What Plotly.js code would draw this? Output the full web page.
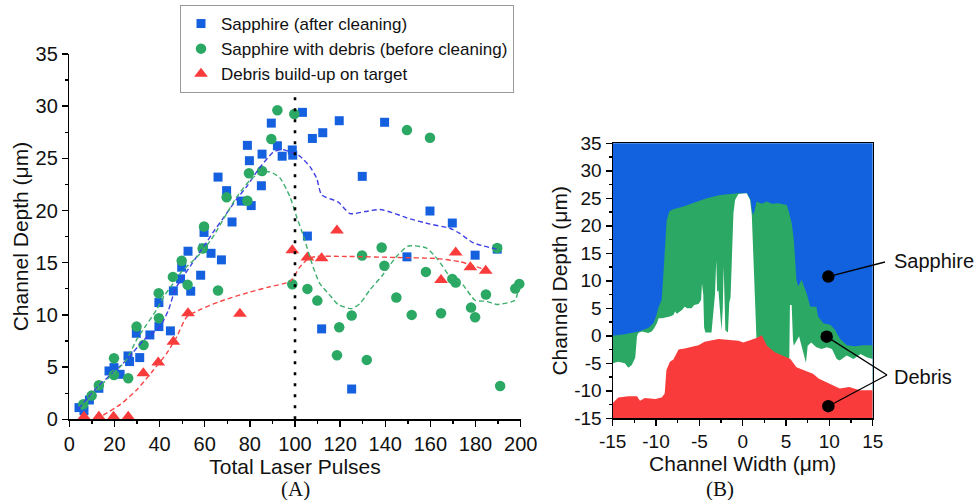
<!DOCTYPE html>
<html><head><meta charset="utf-8">
<script src="https://cdn.plot.ly/plotly-3.0.1.min.js"></script>
<style>html,body{margin:0;padding:0;background:#fff}</style>
</head><body><div id="chart" style="width:974px;height:500px"></div>
<script>
// ---------- Panel A data ----------
const cleanX = [4.3,6.5,8.9,13.1,17.6,19.8,22.5,26.0,26.7,29.7,31.2,35.7,39.7,39.7,44.8,46.1,49.3,49.8,52.6,53.8,58.2,59.4,59.7,62.8,65.9,67.4,69.7,72.1,76.2,78.9,79.8,80.6,85.1,85.4,89.5,92.2,94.3,98.8,99.0,103.3,105.5,107.7,109.8,111.8,112.3,119.6,125.1,129.8,139.7,149.6,159.8,169.7,179.8,189.6];
const cleanY = [1.12,0.83,1.85,2.97,4.63,4.95,4.31,6.07,5.53,8.24,5.91,8.08,8.88,11.18,8.47,12.3,13.45,14.57,16.1,12.27,13.8,16.4,17.9,15.9,23.2,15.27,21.9,18.9,20.9,26.24,24.77,20.47,22.37,25.4,28.37,26.2,25.2,25.8,25.3,29.4,17.55,26.9,31.76,8.66,27.45,28.6,2.9,23.27,28.45,15.56,19.95,18.8,15.72,16.3];

const debrisX = [6.2,9.9,13.1,19.8,19.8,26.1,29.8,32.9,39.7,39.6,45.9,49.8,52.4,59.1,59.7,65.9,69.7,78.9,79.6,85.4,89.5,92.2,98.8,99.7,105.5,109.9,118.6,119.6,125.1,129.7,131.8,138.4,139.6,144.9,149.6,151.7,158,159.8,164.7,169.7,171.2,178,179.8,184.6,189.6,190.9,197.6,199.4];
const debrisY = [1.44,2.27,3.26,5.85,4.25,3.93,8.88,7.12,9.68,12.08,13.64,15.18,12.88,16.36,18.47,12.33,21.26,20.94,23.56,23.78,26.85,29.6,12.94,29.25,12.49,11.37,6.13,8.82,9.94,15.69,5.69,16.45,14.7,11.66,27.7,10.0,14.12,26.97,10.16,13.45,13.1,10.7,9.78,11.95,16.42,3.19,12.52,12.97];

const buildX = [6.5,13.1,19.6,26.1,32.8,39.4,46.1,52.6,75.6,98.8,105.5,111.8,118.6,164.7,171.2,177.7,184.5];
const buildY = [0.25,0.25,0.25,0.25,4.4,5.43,7.44,10.16,10.1,16.2,15.5,15.43,18.08,13.35,15.97,14.57,14.22];

// smoothed trend lines (dashed)
const cleanFitX = [4,8,13,19,25.4,33,40,44,47,50,54,60,64,68,74.2,78.6,84,90.4,94.1,99.3,102.2,106.6,109.6,111.8,119.2,124.4,131,137.7,143,149.5,159.8,168.6,173,179,189.3];
const cleanFitY = [1.0,2.0,3.2,4.4,5.7,7.6,8.8,10.5,12.5,13.5,14.8,16.7,18.0,19.2,21.1,22.3,24.0,25.6,25.85,25.5,25.2,24.2,23.1,21.5,20.8,19.7,19.9,20.1,19.8,19.3,18.7,18.3,17.8,16.9,16.3];
const debrisFitX = [5.5,10.6,19.5,25,29.8,34,38.7,42,46,50,54.9,59.4,64,69.7,74.2,80,84.5,89,93.4,97.8,100.7,103.7,108,111,115,119.1,125.1,128.8,133.2,138.4,145,150.2,158.3,163.3,168.6,173.9,179.8,184.9,189.4,197.5,199];
const debrisFitY = [0.9,2.5,4.4,5.6,7.6,9.0,10.5,11.8,13.0,14.2,15.2,16.2,17.6,19.7,21.3,22.9,23.6,23.7,23.1,21.3,19.4,17.6,14.6,13.0,12.0,11.0,10.6,11.1,12.4,13.7,15.6,16.6,16.4,15.3,13.7,13.0,11.4,11.3,11.0,11.4,12.6];
const buildFitX = [12,15,22.5,29.8,37.2,43.1,47.6,52,57.9,66.8,78.6,88.9,97.8,102.2,106,109.6,122.9,145,162.7,173,181.9,184];
const buildFitY = [0,0.4,1.4,2.8,4.7,6.3,7.9,9.8,10.5,11.3,12.1,12.7,13.2,14.6,15.4,15.6,15.6,15.5,15.4,15.1,14.5,14.3];

const cleaningPulseX = [100,100];
const cleaningPulseY = [0,32.2];

// ---------- Panel B data ----------
const sapphireW = [-15,-13.6,-12.0,-10.9,-10.3,-10.0,-9.7,-9.35,-9.2,-9.08,-8.77,-8.45,-8.0,-6.85,-5.7,-4.15,-2.6,-1.07,-0.5,0.5,0.9,1.15,1.35,1.6,2.2,2.77,3.35,4.12,5.08,5.26,5.66,5.9,6.2,6.4,6.8,7.38,7.6,7.8,8.5,8.7,9.3,10.1,10.65,11.2,12.0,12.96,13.9,15];
const sapphireD = [0,0.3,0.8,1.4,2.3,3.5,5.3,6.5,10,13.2,21.0,22.7,23.0,23.5,24.2,25.0,25.6,25.9,25.9,25.9,24.8,22.0,22.6,24.4,24.0,24.4,24.0,24.1,23.8,22.9,20.4,17.4,10.2,9.0,10.2,7.7,6.5,5.3,5.3,3.5,2.3,2.0,1.1,-0.5,-1.7,-1.9,-1.7,-1.7];
const channelW = [-15,-14.35,-13.6,-13.2,-12.8,-12.4,-12.2,-12.05,-11.65,-10.9,-10.5,-10.2,-9.9,-9.7,-9.3,-8.4,-8.0,-7.8,-7.6,-7.0,-6.7,-6.4,-5.9,-5.6,-5.1,-4.8,-4.7,-4.55,-4.45,-4.3,-3.6,-3.4,-3.2,-3.05,-2.95,-2.8,-2.6,-2.45,-2.3,-2.2,-2.1,-2.0,-1.7,-1.55,-1.4,-1.3,-1.07,-0.88,-0.5,0.46,0.85,1.05,1.2,1.4,1.6,5.3,5.38,5.45,5.65,5.8,5.9,6.5,6.9,7.3,7.5,7.9,8.5,9.1,9.7,10.3,10.85,11.2,12.0,12.8,13.6,14.3,15];
const channelD = [-5.0,-4.7,-5.0,-5.8,-5.3,-4.0,-0.1,0.5,0.8,0.5,0.8,1.4,2.3,3.2,3.2,3.5,3.8,4.4,4.0,4.7,5.3,5.0,5.0,5.6,5.8,6.5,9.5,7.5,1.5,0.6,0.6,4,7.5,13.8,8,8.3,3,1.0,5,12.6,7,1.0,0.6,6,7,13.2,22.3,24.7,25.8,25.9,24.7,22.0,15,8,-1,-5,-3.8,5.6,5.6,-0.7,-1.8,-0.1,-2.5,-4.9,-1.8,-1.2,-2.1,-2.4,-2.1,-2.4,-4.2,-4.5,-3.6,-4.2,-3.3,-3.9,-4.2];
const buildupW = [-15,-14.7,-14.35,-13.2,-12.2,-11.85,-11.3,-10.1,-9.35,-9.0,-8.8,-8.4,-8.0,-7.4,-6.7,-5.1,-4.4,-2.8,-1.65,-0.5,0.07,1.6,2.2,2.8,3.7,4.7,5.5,6.2,7.3,8.1,8.8,9.6,10.4,11.2,12.3,13.5,15];
const buildupD = [-12.2,-11.7,-11.2,-11.0,-11.0,-11.8,-11.3,-11.5,-11.2,-10.5,-6.2,-4.7,-4.3,-2.5,-2.3,-1.7,-1.1,-0.6,-0.7,-0.9,-1.2,-0.4,0.1,-1.8,-3.0,-3.6,-4.2,-5.7,-6.4,-6.9,-7.8,-8.4,-9.0,-9.6,-9.3,-9.9,-9.9];
const markerW = [9.88,9.69,9.88];
const markerD = [10.76,-0.15,-12.8];

const xTicksB = [-15,-10,-5,0,5,10,15];
const xTickTextB = ['-15','-10','-5','0','5','10','15'];
const yTicksB = [-15,-10,-5,0,5,10,15,20,25,30,35];
const yTickTextB = ['-15','-10','-5','0','5','10','15','20','25','30','35'];

// ---------- styles ----------
const FONT = 'Liberation Sans, Arial, sans-serif';
const C_BLUE = '#1560DE', C_GREEN = '#2BA864', C_RED = '#FA3B3B';
const B_RANGE_X = [-15,15], B_RANGE_Y = [-15,35];

function closeToFloor(w, d){
  return {x: w.concat([B_RANGE_X[1], B_RANGE_X[0]]), y: d.concat([B_RANGE_Y[0], B_RANGE_Y[0]])};
}
const gPoly = closeToFloor(sapphireW, sapphireD);
const wPoly = closeToFloor(channelW, channelD);
const rPoly = closeToFloor(buildupW, buildupD);

const traces = [
  {x: cleanX, y: cleanY, type:'scatter', mode:'markers', name:'Sapphire (after cleaning)',
   marker:{symbol:'square', size:9, color:C_BLUE}, cliponaxis:false, xaxis:'x', yaxis:'y'},
  {x: debrisX, y: debrisY, type:'scatter', mode:'markers', name:'Sapphire with debris (before cleaning)',
   marker:{symbol:'circle', size:10.5, color:C_GREEN}, cliponaxis:false, xaxis:'x', yaxis:'y'},
  {x: buildX, y: buildY, type:'scatter', mode:'markers', name:'Debris build-up on target',
   marker:{symbol:'triangle-up', size:12, color:C_RED}, cliponaxis:false, xaxis:'x', yaxis:'y'},
  {x: cleanFitX, y: cleanFitY, type:'scatter', mode:'lines', showlegend:false,
   line:{color:'#3F3FE6', width:1.4, dash:'5px,3px', shape:'spline', smoothing:0.6}, xaxis:'x', yaxis:'y'},
  {x: debrisFitX, y: debrisFitY, type:'scatter', mode:'lines', showlegend:false,
   line:{color:'#3DAF6C', width:1.4, dash:'5px,3px', shape:'spline', smoothing:0.6}, xaxis:'x', yaxis:'y'},
  {x: buildFitX, y: buildFitY, type:'scatter', mode:'lines', showlegend:false,
   line:{color:'#FA4545', width:1.4, dash:'5px,3px', shape:'spline', smoothing:0.6}, xaxis:'x', yaxis:'y'},
  {x: cleaningPulseX, y: cleaningPulseY, type:'scatter', mode:'lines', showlegend:false,
   line:{color:'#000', width:2.6, dash:'3px,8px'}, xaxis:'x', yaxis:'y'},
  // Panel B fills
  {x: gPoly.x, y: gPoly.y, type:'scatter', mode:'lines', fill:'toself', fillcolor:C_GREEN,
   line:{width:0, color:C_GREEN}, showlegend:false, xaxis:'x2', yaxis:'y2'},
  {x: wPoly.x, y: wPoly.y, type:'scatter', mode:'lines', fill:'toself', fillcolor:'#FFFFFF',
   line:{width:0, color:'#FFFFFF'}, showlegend:false, xaxis:'x2', yaxis:'y2'},
  {x: rPoly.x, y: rPoly.y, type:'scatter', mode:'lines', fill:'toself', fillcolor:C_RED,
   line:{width:0, color:C_RED}, showlegend:false, xaxis:'x2', yaxis:'y2'},
  {x: markerW, y: markerD, type:'scatter', mode:'markers', showlegend:false,
   marker:{size:12.5, color:'#000'}, xaxis:'x2', yaxis:'y2'}
];

const W = 974, H = 500;
const domAx = [69.3/W, 520.7/W], domAy = [1-419.3/H, 1-53.9/H];
const domBx = [612.7/W, 872.7/W], domBy = [1-418.3/H, 1-143.3/H];
function pbx(x){return domBx[0]+(x-B_RANGE_X[0])/(B_RANGE_X[1]-B_RANGE_X[0])*(domBx[1]-domBx[0]);}
function pby(y){return domBy[0]+(y-B_RANGE_Y[0])/(B_RANGE_Y[1]-B_RANGE_Y[0])*(domBy[1]-domBy[0]);}

const sapTail = [885/W, 1-262/H], debTail = [887/W, 1-375/H];
const lineStyle = {color:'#000', width:1.3};
const shapes = [
  {type:'rect', xref:'x2 domain', yref:'y2 domain', x0:0, x1:1, y0:0, y1:1, fillcolor:'#1262E0', line:{width:0}, layer:'below'},
  {type:'line', xref:'paper', yref:'paper', x0:pbx(markerW[0]), y0:pby(markerD[0]), x1:sapTail[0], y1:sapTail[1], line:lineStyle},
  {type:'line', xref:'paper', yref:'paper', x0:pbx(markerW[1]), y0:pby(markerD[1]), x1:debTail[0], y1:debTail[1], line:lineStyle},
  {type:'line', xref:'paper', yref:'paper', x0:pbx(markerW[2]), y0:pby(markerD[2]), x1:debTail[0], y1:debTail[1], line:lineStyle}
];

const axisCommon = {showline:true, linecolor:'#000', linewidth:1.5, ticks:'outside', ticklen:6, tickwidth:1.5, tickcolor:'#000',
  showgrid:false, zeroline:false, tickfont:{family:FONT, size:20, color:'#111'}};

const layout = {
  width:W, height:H, margin:{l:0,r:0,t:0,b:0}, paper_bgcolor:'#fff', plot_bgcolor:'rgba(0,0,0,0)',
  font:{family:FONT, color:'#111'},
  showlegend:true,
  legend:{x:180/W, y:1-5/H, xanchor:'left', yanchor:'top', bgcolor:'#fff', bordercolor:'#999', borderwidth:1,
    font:{family:FONT, size:17, color:'#111'}, tracegroupgap:0, itemsizing:'trace'},
  xaxis: Object.assign({}, axisCommon, {domain:domAx, range:[0,200], dtick:20, tick0:0, anchor:'y',
    minor:{ticks:'outside', ticklen:3, tickwidth:1.3, tickcolor:'#000', dtick:10, tick0:0},
    title:{text:'Total Laser Pulses', font:{family:FONT, size:21, color:'#111'}, standoff:0}}),
  yaxis: Object.assign({}, axisCommon, {domain:domAy, range:[0,35], dtick:5, tick0:0, anchor:'x',
    minor:{ticks:'outside', ticklen:3, tickwidth:1.3, tickcolor:'#000', dtick:2.5, tick0:0},
    title:{text:'Channel Depth (μm)', font:{family:FONT, size:21, color:'#111'}, standoff:1}}),
  xaxis2: Object.assign({}, axisCommon, {domain:domBx, range:B_RANGE_X, anchor:'y2', mirror:true, linewidth:1.2,
    tickmode:'array', tickvals:xTicksB, ticktext:xTickTextB, tickfont:{family:FONT, size:19, color:'#111'},
    minor:{ticks:'outside', ticklen:3, tickwidth:1.2, tickcolor:'#000', dtick:2.5, tick0:0},
    title:{text:'Channel Width (μm)', font:{family:FONT, size:21, color:'#111'}, standoff:0}}),
  yaxis2: Object.assign({}, axisCommon, {domain:domBy, range:B_RANGE_Y, anchor:'x2', mirror:true, linewidth:1.2,
    tickmode:'array', tickvals:yTicksB, ticktext:yTickTextB, tickfont:{family:FONT, size:19, color:'#111'},
    minor:{ticks:'outside', ticklen:3, tickwidth:1.2, tickcolor:'#000', dtick:2.5, tick0:0},
    title:{text:'Channel Depth (μm)', font:{family:FONT, size:21, color:'#111'}, standoff:0}}),
  shapes: shapes,
  annotations:[
    {xref:'paper', yref:'paper', x:892/W, y:1-261/H, xanchor:'left', yanchor:'middle', text:'Sapphire', showarrow:false,
     font:{family:FONT, size:20, color:'#111'}},
    {xref:'paper', yref:'paper', x:892/W, y:1-377/H, xanchor:'left', yanchor:'middle', text:'Debris', showarrow:false,
     font:{family:FONT, size:20, color:'#111'}},
    {xref:'paper', yref:'paper', x:295/W, y:1-489/H, xanchor:'center', yanchor:'middle', text:'(A)', showarrow:false,
     font:{family:'Liberation Serif, Times New Roman, serif', size:21, color:'#111'}},
    {xref:'paper', yref:'paper', x:720/W, y:1-489/H, xanchor:'center', yanchor:'middle', text:'(B)', showarrow:false,
     font:{family:'Liberation Serif, Times New Roman, serif', size:21, color:'#111'}}
  ],
  hovermode:false
};

Plotly.newPlot('chart', traces, layout, {staticPlot:true, displayModeBar:false});
</script>
</body></html>
